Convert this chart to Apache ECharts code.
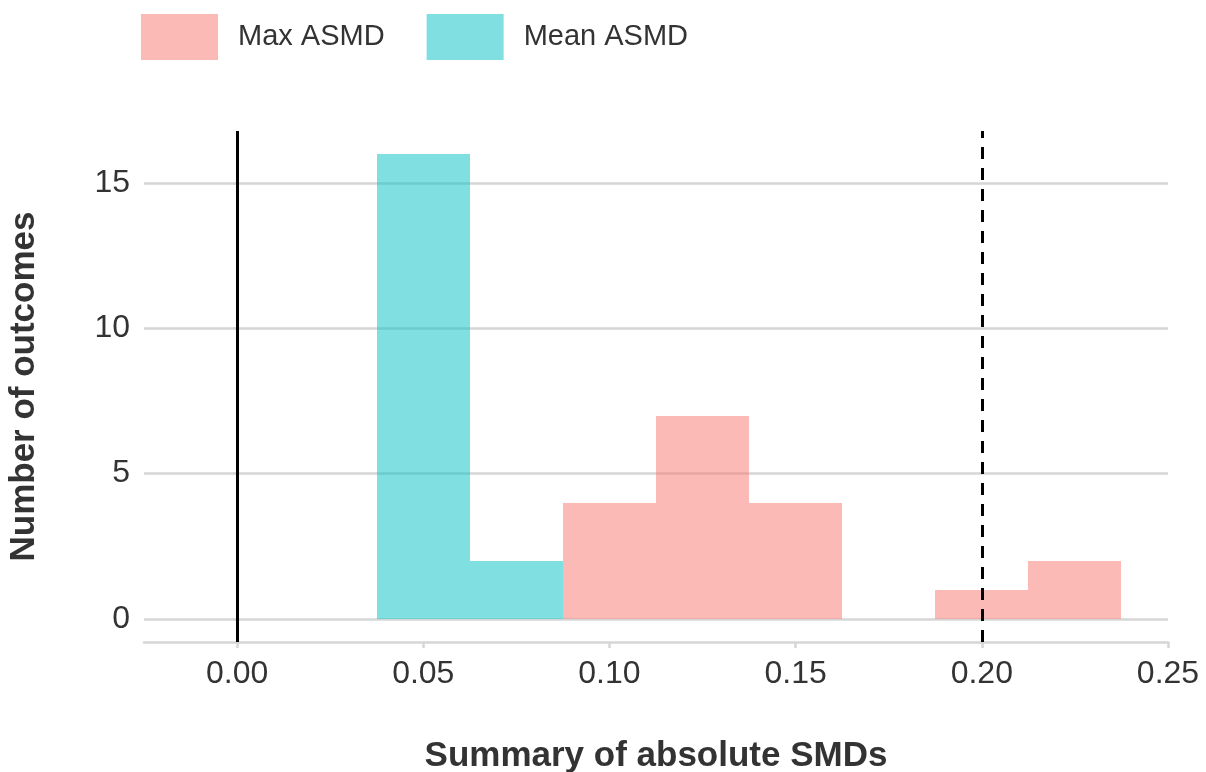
<!DOCTYPE html>
<html>
<head>
<meta charset="utf-8">
<script src="https://cdn.jsdelivr.net/npm/echarts@6/dist/echarts.min.js"></script>
<style>
  html, body { margin: 0; padding: 0; background: #fff; }
  #chart { width: 1206px; height: 772px; }
</style>
</head>
<body>
<div id="chart"></div>
<script>
// histogram bins (width 0.025)
const binWidth = 0.025;
const meanCenters = [0.05, 0.075];
const meanCounts = [16, 2];
const maxCenters = [0.1, 0.125, 0.15, 0.2, 0.225];
const maxCounts = [4, 7, 4, 1, 2];
const xTicks = [0, 0.05, 0.1, 0.15, 0.2, 0.25];
const yTicks = [0, 5, 10, 15];
const solidLineAt = 0;
const dashedLineAt = 0.2;

const textColor = "#333333";
const gridColor = "#d6d6d6";
const fontFamily = "'Liberation Sans', Arial, sans-serif";

// round bin edges to whole pixels so neighbouring translucent bins don't leave a seam
let renderBin = function (params, api) {
  let c = api.value(0);
  let n = api.value(1);
  let p0 = api.coord([c - binWidth / 2, n]);
  let p1 = api.coord([c + binWidth / 2, 0]);
  let x0 = Math.round(p0[0]);
  let x1 = Math.round(p1[0]);
  let y0 = Math.round(p0[1]);
  let y1 = Math.round(p1[1]);
  return {
    type: "rect",
    shape: { x: x0, y: y0, width: x1 - x0, height: y1 - y0 },
    style: api.style()
  };
};

let chart = echarts.init(document.getElementById("chart"));

let option = {
  animation: false,
  textStyle: { fontFamily: fontFamily },
  legend: {
    data: ["Max ASMD", "Mean ASMD"],
    left: 141,
    top: 14,
    padding: 0,
    icon: "rect",
    itemWidth: 77,
    itemHeight: 46,
    itemGap: 42,
    selectedMode: false,
    textStyle: {
      color: textColor,
      fontSize: 29,
      fontFamily: fontFamily,
      padding: [0, 0, 0, 15]
    }
  },
  grid: {
    left: 144,
    right: 38,
    top: 131,
    bottom: 130,
    containLabel: false,
    outerBoundsMode: "none"
  },
  xAxis: {
    type: "value",
    min: -0.025,
    max: 0.25,
    name: "Summary of absolute SMDs",
    nameLocation: "middle",
    nameGap: 97,
    nameTextStyle: { color: textColor, fontSize: 35, fontWeight: "bold" },
    axisLine: { show: true, onZero: false, lineStyle: { color: gridColor, width: 2.5 } },
    axisTick: {
      show: true,
      length: 6,
      customValues: xTicks,
      lineStyle: { color: gridColor, width: 2.5 }
    },
    axisLabel: {
      customValues: xTicks,
      color: textColor,
      fontSize: 32,
      margin: 16,
      formatter: (v) => v.toFixed(2)
    },
    splitLine: { show: false }
  },
  yAxis: {
    type: "value",
    min: -0.8,
    max: 16.8,
    name: "Number of outcomes",
    nameLocation: "middle",
    nameGap: 102,
    nameTextStyle: { color: textColor, fontSize: 35, fontWeight: "bold" },
    axisLine: { show: false },
    axisTick: {
      show: true,
      length: 4,
      customValues: yTicks,
      lineStyle: { color: gridColor, width: 2.5 }
    },
    axisLabel: {
      customValues: yTicks,
      color: textColor,
      fontSize: 32,
      margin: 14
    },
    splitLine: { show: true, lineStyle: { color: gridColor, width: 2.5 } }
  },
  series: [
    {
      name: "Max ASMD",
      type: "custom",
      renderItem: renderBin,
      encode: { x: 0, y: 1 },
      itemStyle: { color: "rgba(248,118,109,0.5)" },
      data: maxCenters.map((c, i) => [c, maxCounts[i]]),
      silent: true
    },
    {
      name: "Mean ASMD",
      type: "custom",
      renderItem: renderBin,
      encode: { x: 0, y: 1 },
      itemStyle: { color: "rgba(0,191,196,0.5)" },
      data: meanCenters.map((c, i) => [c, meanCounts[i]]),
      silent: true
    },
    {
      name: "ref",
      type: "line",
      data: [],
      silent: true,
      markLine: {
        silent: true,
        symbol: "none",
        label: { show: false },
        data: [
          { xAxis: solidLineAt, lineStyle: { color: "#000", width: 3, type: "solid" } },
          { xAxis: dashedLineAt, lineStyle: { color: "#000", width: 3, type: [12, 9] } }
        ]
      }
    }
  ]
};

chart.setOption(option);
window.onresize = function () {
  chart.resize();
};
</script>
</body>
</html>
